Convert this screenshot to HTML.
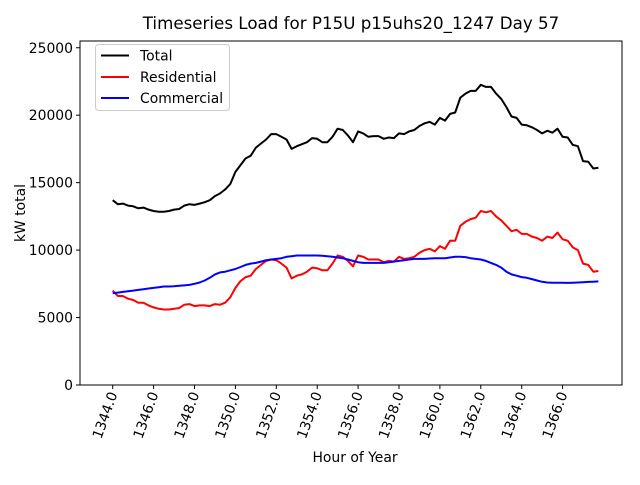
<!DOCTYPE html>
<html><head><meta charset="utf-8"><style>
body{margin:0;background:#fff;}
svg{font-family:"DejaVu Sans","Liberation Sans",sans-serif;}
</style></head><body>
<svg id="chart" width="640" height="480">
<rect x="0" y="0" width="640" height="480" fill="#fff"/>
<text x="351" y="29" text-anchor="middle" font-size="16.7">Timeseries Load for P15U p15uhs20_1247  Day 57</text>
<g id="plot"></g>
<rect x="80" y="41" width="542" height="344" fill="none" stroke="#000" stroke-width="1"/>
<text x="355" y="462" text-anchor="middle" font-size="13.9">Hour of Year</text>
<text transform="translate(25,213) rotate(-90)" text-anchor="middle" font-size="13.9">kW total</text>
<g>
<rect x="95.5" y="44.5" width="134" height="66" fill="#fff" stroke="#ccc" rx="3"/>
<line x1="101" y1="55.5" x2="129" y2="55.5" stroke="#000" stroke-width="2"/>
<text x="140" y="60.5" font-size="13.9">Total</text>
<line x1="101" y1="77" x2="129" y2="77" stroke="red" stroke-width="2"/>
<text x="140" y="82" font-size="13.9">Residential</text>
<line x1="101" y1="98" x2="129" y2="98" stroke="blue" stroke-width="2"/>
<text x="140" y="103" font-size="13.9">Commercial</text>
</g>
</svg>
<script>
const total=[13700,13400,13450,13300,13250,13100,13150,13000,12900,12850,12850,12900,13000,13050,13300,13400,13350,13450,13550,13700,14000,14200,14500,14900,15800,16300,16800,17000,17600,17900,18200,18600,18600,18400,18200,17500,17700,17850,18000,18300,18250,18000,18000,18400,19000,18900,18500,18000,18800,18650,18400,18450,18450,18250,18350,18300,18650,18600,18800,18900,19200,19400,19500,19300,19800,19600,20100,20200,21300,21600,21800,21800,22250,22100,22100,21600,21200,20600,19900,19800,19300,19250,19100,18900,18650,18850,18700,19000,18400,18350,17800,17700,16600,16550,16050,16100];
const residential=[7000,6600,6600,6400,6300,6100,6100,5900,5750,5650,5600,5600,5650,5700,5950,6000,5850,5900,5900,5850,6000,5950,6100,6500,7200,7700,8000,8100,8600,8900,9200,9300,9250,9000,8700,7900,8100,8200,8400,8700,8650,8500,8500,9000,9600,9500,9200,8800,9600,9500,9300,9300,9300,9100,9200,9150,9500,9350,9400,9500,9800,10000,10100,9900,10300,10100,10700,10700,11800,12100,12300,12400,12900,12800,12900,12500,12200,11800,11400,11500,11200,11200,11000,10900,10700,11000,10900,11300,10800,10700,10200,10000,9000,8900,8400,8450];
const commercial=[6800,6850,6900,6950,7000,7050,7100,7150,7200,7250,7300,7300,7320,7350,7380,7420,7500,7600,7750,7950,8200,8350,8400,8500,8600,8750,8900,9000,9050,9150,9250,9300,9350,9400,9500,9550,9600,9600,9600,9600,9600,9580,9550,9500,9450,9400,9300,9200,9100,9050,9050,9050,9050,9050,9100,9150,9200,9250,9300,9350,9350,9350,9380,9400,9400,9400,9450,9500,9500,9480,9400,9350,9300,9200,9050,8900,8700,8400,8200,8100,8000,7950,7850,7750,7650,7600,7580,7580,7580,7570,7580,7600,7620,7640,7660,7680];
const xTicks=[1344,1346,1348,1350,1352,1354,1356,1358,1360,1362,1364,1366];
const yTicks=[0,5000,10000,15000,20000,25000];
const startHour=1344, stepHour=0.25;
const NS='http://www.w3.org/2000/svg';
function xs(h){return 112.7+(h-1344)*20.45;}
function ys(v){return 385-v*67.45/5000;}
const g=document.getElementById('plot');
function mk(t,a){const e=document.createElementNS(NS,t);for(const k in a)e.setAttribute(k,a[k]);return e;}
yTicks.forEach(v=>{
  const l=mk('line',{x1:76,x2:80,y1:ys(v),y2:ys(v),stroke:'#000'});
  
  
  g.appendChild(l);
  const t=mk('text',{x:73,y:ys(v)+5,'text-anchor':'end','font-size':'13.9'});
  
  
  t.textContent=v;g.appendChild(t);
});
xTicks.forEach(h=>{
  const x=xs(h);
  const l=mk('line',{x1:x,x2:x,y1:385,y2:389,stroke:'#000'});
  
  
  g.appendChild(l);
  const t=mk('text',{transform:`translate(${x+5},394) rotate(-70)`,'text-anchor':'end','font-size':'13.9'});
  
  
  t.textContent=h.toFixed(1);g.appendChild(t);
});
function line(arr,col,name){
  const p=arr.map((v,i)=>(i?'L':'M')+xs(startHour+i*stepHour).toFixed(1)+','+ys(v).toFixed(1)).join('');
  const e=mk('path',{d:p,fill:'none',stroke:col,'stroke-width':2,'stroke-linejoin':'round'});
  
  
  g.appendChild(e);
}
line(total,'#000','total-line');
line(residential,'red','residential-line');
line(commercial,'blue','commercial-line');
</script>
</body></html>
